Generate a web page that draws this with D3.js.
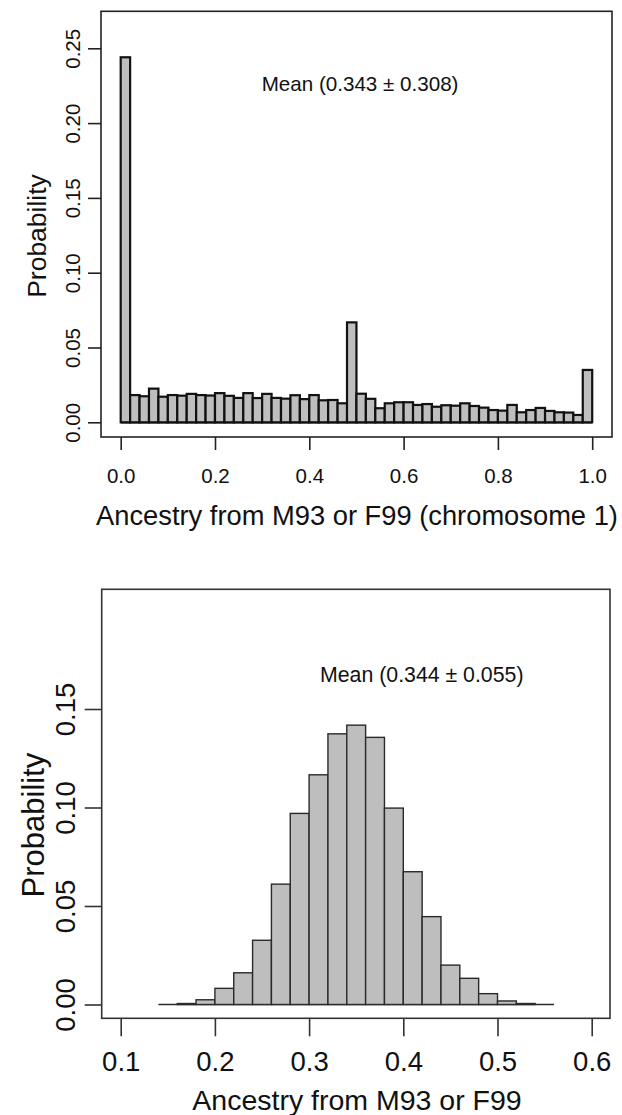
<!DOCTYPE html>
<html>
<head>
<meta charset="utf-8">
<script src="https://cdn.jsdelivr.net/npm/d3@7"></script>
<style>
  html, body { margin: 0; padding: 0; background: #fff; }
  svg { display: block; }
  text { font-family: "Liberation Sans", Arial, sans-serif; fill: #111; }
</style>
</head>
<body>
<div id="chart"></div>
<script>
// chromosome 1 histogram, bins of 0.02 starting at 0
const chr1BinStart = 0;
const chr1BinWidth = 0.02;
const chr1Probs = [
  0.244, 0.0182, 0.0174, 0.0225, 0.0171, 0.0182, 0.0178, 0.019, 0.0182, 0.0179,
  0.0195, 0.0177, 0.0163, 0.0195, 0.0162, 0.019, 0.0163, 0.0158, 0.0181, 0.0155,
  0.0182, 0.0147, 0.0149, 0.0127, 0.0668, 0.0191, 0.0157, 0.0094, 0.0127, 0.0134,
  0.0134, 0.0116, 0.0122, 0.0104, 0.0114, 0.0111, 0.0127, 0.0109, 0.0098, 0.0082,
  0.0078, 0.0116, 0.0067, 0.0082, 0.0096, 0.0076, 0.0067, 0.0065, 0.0049, 0.035
];
const chr1XTicks = [0, 0.2, 0.4, 0.6, 0.8, 1.0];
const chr1YTicks = [0, 0.05, 0.10, 0.15, 0.20, 0.25];

// genome-wide histogram, bins of 0.02 starting at 0.14
const allBinStart = 0.14;
const allBinWidth = 0.02;
const allProbs = [
  0, 0.0005, 0.0024, 0.0082, 0.0161, 0.0326, 0.0611, 0.097, 0.1166, 0.1374,
  0.1418, 0.1356, 0.0997, 0.0674, 0.0446, 0.020, 0.0133, 0.0055, 0.0018, 0.0005, 0
];
const allXTicks = [0.1, 0.2, 0.3, 0.4, 0.5, 0.6];
const allYTicks = [0, 0.05, 0.10, 0.15];

const width = 622, height = 1115;

const svg = d3.select("#chart").append("svg")
  .attr("width", width)
  .attr("height", height)
  .attr("viewBox", [0, 0, width, height]);

function drawHist(cfg) {
  const g = svg.append("g");
  const x = d3.scaleLinear().domain(cfg.xDomain).range(cfg.xRange);
  const y = d3.scaleLinear().domain(cfg.yDomain).range(cfg.yRange);

  const bins = cfg.probs.map((p, i) => ({
    x0: cfg.binStart + i * cfg.binWidth,
    x1: cfg.binStart + (i + 1) * cfg.binWidth,
    p: p
  }));

  // baseline under all bins (empty bins show as a flat line, like R)
  g.append("line")
    .attr("x1", x(bins[0].x0)).attr("x2", x(bins[bins.length - 1].x1))
    .attr("y1", y(0)).attr("y2", y(0))
    .attr("stroke", cfg.barStroke).attr("stroke-width", cfg.barStrokeWidth);

  g.selectAll("rect.bar")
    .data(bins.filter(d => d.p > 0))
    .enter().append("rect")
    .attr("class", "bar")
    .attr("x", d => x(d.x0))
    .attr("y", d => y(d.p))
    .attr("width", d => x(d.x1) - x(d.x0))
    .attr("height", d => y(0) - y(d.p))
    .attr("fill", "#bebebe")
    .attr("stroke", cfg.barStroke)
    .attr("stroke-width", cfg.barStrokeWidth);

  // box
  g.append("rect")
    .attr("x", cfg.box[0]).attr("y", cfg.box[1])
    .attr("width", cfg.box[2] - cfg.box[0]).attr("height", cfg.box[3] - cfg.box[1])
    .attr("fill", "none").attr("stroke", cfg.boxStroke).attr("stroke-width", cfg.boxStrokeWidth);

  // x axis
  const xAxis = g.append("g")
    .attr("transform", `translate(0,${cfg.box[3]})`)
    .call(d3.axisBottom(x).tickValues(cfg.xTicks).tickSize(cfg.xTickLen).tickFormat(d3.format(".1f")));
  xAxis.select(".domain").remove();
  xAxis.selectAll(".tick line").attr("stroke", cfg.boxStroke).attr("stroke-width", cfg.boxStrokeWidth);
  xAxis.selectAll(".tick text")
    .attr("y", cfg.xLabelBaseline - cfg.box[3])
    .attr("dy", null)
    .attr("fill", "#111")
    .style("font-size", cfg.tickFont + "px");

  // y axis, labels parallel to the axis
  const yAxis = g.append("g")
    .attr("transform", `translate(${cfg.box[0]},0)`)
    .call(d3.axisLeft(y).tickValues(cfg.yTicks).tickSize(cfg.yTickLen).tickFormat(d3.format(".2f")));
  yAxis.select(".domain").remove();
  yAxis.selectAll(".tick line").attr("stroke", cfg.boxStroke).attr("stroke-width", cfg.boxStrokeWidth);
  yAxis.selectAll(".tick text")
    .attr("x", null)
    .attr("dy", "0.36em")
    .attr("text-anchor", "middle")
    .attr("fill", "#111")
    .attr("transform", `translate(${cfg.yLabelX - cfg.box[0]},0) rotate(-90)`)
    .style("font-size", cfg.tickFont + "px");

  // axis titles
  g.append("text")
    .attr("x", cfg.xTitle[0]).attr("y", cfg.xTitle[1])
    .attr("text-anchor", "middle")
    .style("font-size", cfg.titleFont + "px")
    .text(cfg.xLabel);

  g.append("text")
    .attr("transform", `translate(${cfg.yTitle[0]},${cfg.yTitle[1]}) rotate(-90)`)
    .attr("text-anchor", "middle")
    .style("font-size", cfg.yTitleFont + "px")
    .text("Probability");

  // mean annotation
  g.append("text")
    .attr("x", cfg.mean[0]).attr("y", cfg.mean[1])
    .style("font-size", cfg.meanFont + "px")
    .text(cfg.meanText);
}

drawHist({
  probs: chr1Probs, binStart: chr1BinStart, binWidth: chr1BinWidth,
  xDomain: [0, 1], xRange: [120.7, 592.2],
  yDomain: [0, 0.25], yRange: [422.3, 48.3],
  box: [101, 11.3, 612, 437],
  xTicks: chr1XTicks, yTicks: chr1YTicks,
  xTickLen: 13, yTickLen: 13,
  xLabelBaseline: 483, yLabelX: 72.7,
  tickFont: 20.5, titleFont: 27.3, yTitleFont: 26.5,
  xTitle: [357, 525], yTitle: [46, 236],
  xLabel: "Ancestry from M93 or F99 (chromosome 1)",
  mean: [261.7, 90.7], meanFont: 20.6, meanText: "Mean (0.343 \u00b1 0.308)",
  barStroke: "#111", barStrokeWidth: 2.2,
  boxStroke: "#222", boxStrokeWidth: 1.6
});

drawHist({
  probs: allProbs, binStart: allBinStart, binWidth: allBinWidth,
  xDomain: [0.1, 0.6], xRange: [120.7, 591.7],
  yDomain: [0, 0.15], yRange: [1004.5, 709],
  box: [101.7, 589.3, 610, 1018.3],
  xTicks: allXTicks, yTicks: allYTicks,
  xTickLen: 18, yTickLen: 17,
  xLabelBaseline: 1070.7, yLabelX: 65,
  tickFont: 27.5, titleFont: 28.5, yTitleFont: 31,
  xTitle: [357, 1110], yTitle: [44, 825],
  xLabel: "Ancestry from M93 or F99",
  mean: [320, 681.7], meanFont: 21.3, meanText: "Mean (0.344 \u00b1 0.055)",
  barStroke: "#2a2a2a", barStrokeWidth: 1.4,
  boxStroke: "#333", boxStrokeWidth: 1.6
});
</script>
</body>
</html>
